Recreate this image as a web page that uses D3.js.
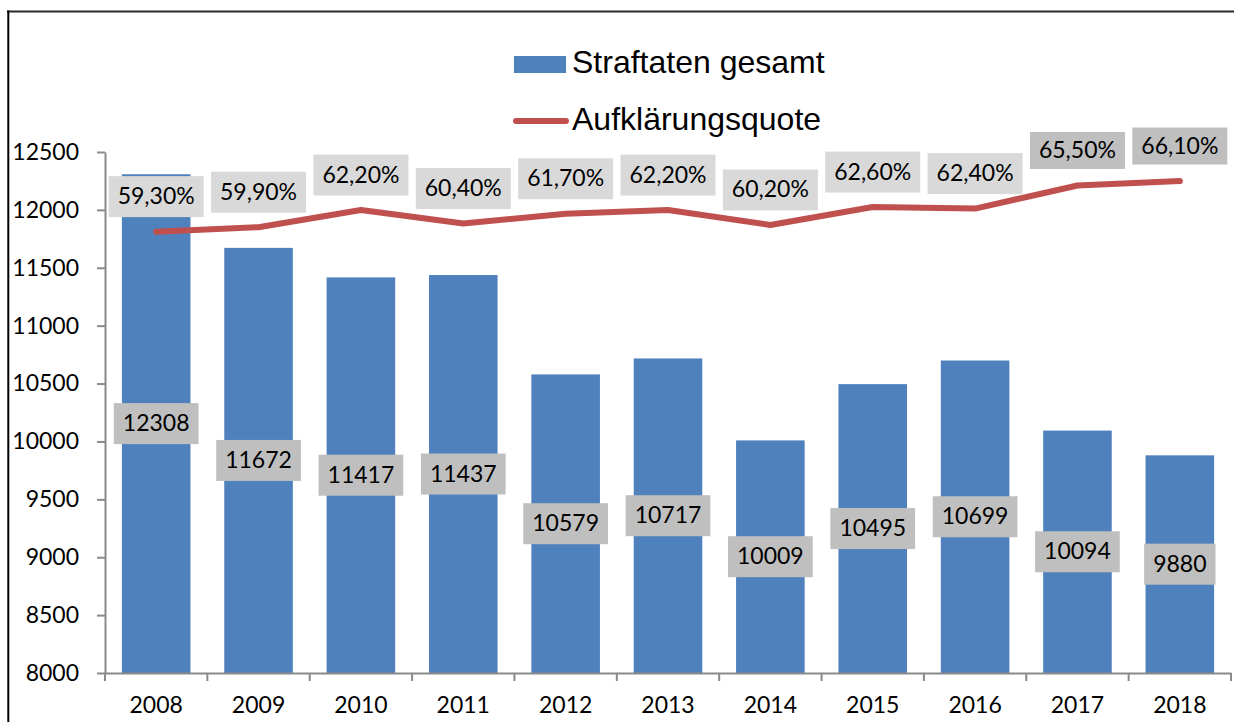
<!DOCTYPE html>
<html>
<head>
<meta charset="utf-8">
<script src="https://cdn.jsdelivr.net/npm/d3@7/dist/d3.min.js"></script>
<style>
  body { margin: 0; background: #fff; }
  svg { display: block; }
</style>
</head>
<body>
<div id="chart"></div>
<script>
// data
var years = ["2008", "2009", "2010", "2011", "2012", "2013", "2014", "2015", "2016", "2017", "2018"];
var straftaten = [12308, 11672, 11417, 11437, 10579, 10717, 10009, 10495, 10699, 10094, 9880];
var quote = [59.3, 59.9, 62.2, 60.4, 61.7, 62.2, 60.2, 62.6, 62.4, 65.5, 66.1];
var yTicks = [8000, 8500, 9000, 9500, 10000, 10500, 11000, 11500, 12000, 12500];

var svgWidth = 1234;
var svgHeight = 722;

var margin = { top: 152, right: 3, bottom: 49, left: 105 };
var width = svgWidth - margin.left - margin.right;
var height = svgHeight - margin.top - margin.bottom;

var svg = d3.select("#chart")
  .append("svg")
  .attr("width", svgWidth)
  .attr("height", svgHeight);

// outer frame (top + left only)
svg.append("line")
  .attr("x1", 7).attr("x2", svgWidth).attr("y1", 11.5).attr("y2", 11.5)
  .attr("stroke", "#2a2a2a").attr("stroke-width", 2);
svg.append("line")
  .attr("x1", 8.3).attr("x2", 8.3).attr("y1", 10.5).attr("y2", svgHeight)
  .attr("stroke", "#000").attr("stroke-width", 2);

var chartGroup = svg.append("g")
  .attr("transform", `translate(${margin.left}, ${margin.top})`);

// scales
var xScale = d3.scaleBand()
  .domain(years)
  .range([0, width])
  .paddingInner(0.33)
  .paddingOuter(0.165);

var yScale = d3.scaleLinear()
  .domain([8000, 12500])
  .range([height, 0]);

// hidden secondary axis for the line
var y2Scale = d3.scaleLinear()
  .domain([0, 70])
  .range([height, 0]);

var axisColor = "#8a8a8a";
var labelFont = "Lato, 'Open Sans', sans-serif";

// bars
chartGroup.selectAll("rect.bar")
  .data(straftaten)
  .enter()
  .append("rect")
  .attr("class", "bar")
  .attr("x", (d, i) => xScale(years[i]))
  .attr("y", d => yScale(d))
  .attr("width", xScale.bandwidth())
  .attr("height", d => height - yScale(d))
  .attr("fill", "#4f81bd");

// y axis
var leftAxis = d3.axisLeft(yScale)
  .tickValues(yTicks)
  .tickSize(8)
  .tickSizeOuter(0)
  .tickPadding(18)
  .tickFormat(d3.format("d"));

var yAxisG = chartGroup.append("g").call(leftAxis);
yAxisG.select(".domain").attr("stroke", axisColor).attr("stroke-width", 2);
yAxisG.selectAll(".tick line").attr("stroke", axisColor).attr("stroke-width", 2);
yAxisG.selectAll(".tick text")
  .attr("font-family", labelFont)
  .attr("font-size", 23)
  .attr("fill", "#000");

// x axis
var bottomAxis = d3.axisBottom(xScale)
  .tickSize(0)
  .tickSizeOuter(0)
  .tickPadding(24);

var xAxisG = chartGroup.append("g")
  .attr("transform", `translate(0, ${height})`)
  .call(bottomAxis);
xAxisG.select(".domain").attr("stroke", axisColor).attr("stroke-width", 2);
xAxisG.selectAll(".tick text")
  .attr("font-family", labelFont)
  .attr("font-size", 23)
  .attr("fill", "#000");

// category boundary ticks
var gap = (xScale.step() - xScale.bandwidth()) / 2;
var bounds = years.map(y => xScale(y) - gap).concat([width]);
xAxisG.selectAll("line.bound")
  .data(bounds)
  .enter()
  .append("line")
  .attr("class", "bound")
  .attr("x1", d => d).attr("x2", d => d)
  .attr("y1", 0).attr("y2", 8)
  .attr("stroke", axisColor)
  .attr("stroke-width", 2);

// line
var line = d3.line()
  .x((d, i) => xScale(years[i]) + xScale.bandwidth() / 2)
  .y(d => y2Scale(d));

chartGroup.append("path")
  .datum(quote)
  .attr("d", line)
  .attr("fill", "none")
  .attr("stroke", "#c0504d")
  .attr("stroke-width", 6)
  .attr("stroke-linejoin", "round")
  .attr("stroke-linecap", "round");

// data labels
function addLabel(cx, cy, text, fill, h) {
  var g = chartGroup.append("g");
  var rect = g.append("rect").attr("fill", fill);
  var t = g.append("text")
    .attr("x", cx)
    .attr("y", cy + 7.5)
    .attr("text-anchor", "middle")
    .attr("font-family", labelFont)
    .attr("font-size", 23)
    .attr("fill", "#000")
    .text(text);
  var w = t.node().getComputedTextLength() + 18;
  rect.attr("x", cx - w / 2).attr("y", cy - h / 2).attr("width", w).attr("height", h);
}

straftaten.forEach(function(d, i) {
  var cx = xScale(years[i]) + xScale.bandwidth() / 2;
  var cy = (yScale(d) + height) / 2;
  addLabel(cx, cy, String(d), "#bfbfbf", 41);
});

quote.forEach(function(d, i) {
  var cx = xScale(years[i]) + xScale.bandwidth() / 2;
  var cy = y2Scale(d) - 35;
  var label = d.toFixed(2).replace(".", ",") + "%";
  // the last two labels sit on a darker box in the original
  addLabel(cx, cy, label, i >= 9 ? "#bfbfbf" : "#d9d9d9", i >= 9 ? 37 : 41);
});

// legend
var legend = svg.append("g");
legend.append("rect")
  .attr("x", 514).attr("y", 56)
  .attr("width", 52).attr("height", 17)
  .attr("fill", "#4f81bd");
legend.append("text")
  .attr("x", 572).attr("y", 73)
  .attr("font-family", "'Liberation Sans', Arial, sans-serif")
  .attr("font-size", 32)
  .text("Straftaten gesamt");
legend.append("line")
  .attr("x1", 516).attr("x2", 566).attr("y1", 121).attr("y2", 121)
  .attr("stroke", "#c0504d")
  .attr("stroke-width", 6)
  .attr("stroke-linecap", "round");
legend.append("text")
  .attr("x", 572).attr("y", 130)
  .attr("font-family", "'Liberation Sans', Arial, sans-serif")
  .attr("font-size", 32)
  .text("Aufklärungsquote");
</script>
</body>
</html>
